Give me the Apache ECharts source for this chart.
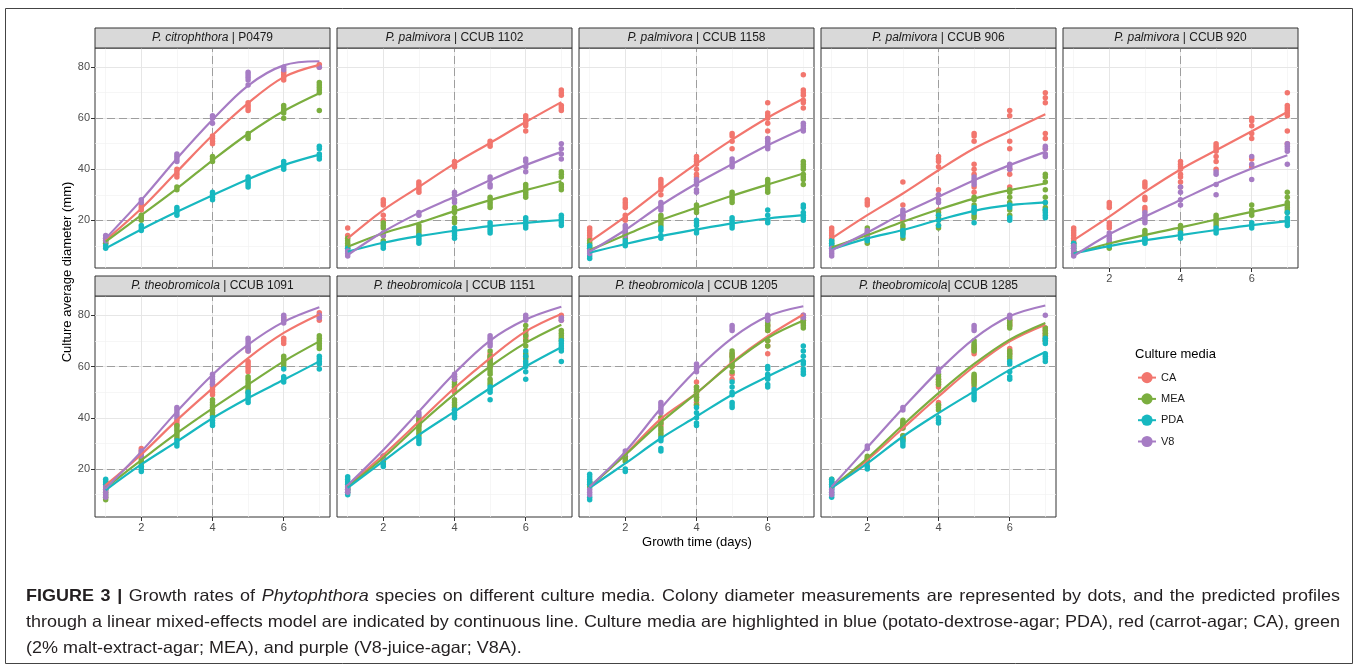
<!DOCTYPE html>
<html><head><meta charset="utf-8">
<script src="https://cdn.jsdelivr.net/npm/echarts@6/dist/echarts.min.js"></script>
<style>html,body{margin:0;padding:0;background:#fff}#c{width:1358px;height:666px}</style>
</head><body><div id="c"></div>
<script>
// ---------- axes / categories ----------
const days = [1, 2, 3, 4, 5, 6, 7];
const media = ['CA', 'MEA', 'PDA', 'V8'];
const xTicks = [2, 4, 6];
const yTicks = [20, 40, 60, 80];
const xMinor = [1, 3, 5, 7];
const yMinor = [10, 30, 50, 70];
const refX = [4];
const refY = [20, 60];
const species = ['P. citrophthora', 'P. palmivora', 'P. palmivora', 'P. palmivora', 'P. palmivora',
  'P. theobromicola', 'P. theobromicola', 'P. theobromicola', 'P. theobromicola'];
const strains = ['P0479', 'CCUB 1102', 'CCUB 1158', 'CCUB 906', 'CCUB 920',
  'CCUB 1091', 'CCUB 1151', 'CCUB 1205', 'CCUB 1285'];
const separators = [' | ', ' | ', ' | ', ' | ', ' | ', ' | ', ' | ', ' | ', '| '];

// ---------- P0479 ----------
const P0479_CA = [[11,12,13],[24,25,26],[37,38,39,40],[50,51,52,53],[63,64,65,66],[75,76,77,78],[80,81]];
const P0479_MEA = [[11,12],[20,21,22],[32,33],[43,44,45],[52,53,54],[60,62,63,64,65],[63,70,71,72,73,74]];
const P0479_PDA = [[9,10],[16,17,18],[22,23,24,25],[28,29,30,31],[33,34,35,36,37],[40,41,42,43],[44,45,46,48,49]];
const P0479_V8 = [[12,13,14],[27,28],[43,44,45,46],[58,60,61],[73,75,76,77,78],[79,80],[80]];
const P0479_CA_fit = [12.2,24.6,39,53.3,65.9,76.1,80.9];
const P0479_MEA_fit = [11.6,22,32.4,43.5,53.9,62.8,69.8];
const P0479_PDA_fit = [9,16.4,23.3,29.8,36.1,41.6,45.7];
const P0479_V8_fit = [12.9,27.9,44.2,59.4,72.8,80.7,82.3];

// ---------- CCUB 1102 ----------
const C1102_CA = [[14,17],[20,22,26,27,28],[31,32,33,34,35],[41,42,43],[49,50,51],[55,57,58,59,60,61],[63,64,65,69,70,71]];
const C1102_MEA = [[9,10,11,12,13],[11,12,14,17,18,19],[14,15,16,17,18],[19,20,21,23,24,25],[25,26,27,28,29],[29,30,31,32,33,34],[32,33,34,37,38,39]];
const C1102_PDA = [[8,9],[9,10,11],[11,12,13,14],[13,14,15,16,17],[15,16,17,18,19],[17,18,19,20,21],[18,19,20,21,22]];
const C1102_V8 = [[6,7,8],[14,15],[22,23],[27,28,30,31],[33,34,36,37],[39,41,43,44],[44,46,48,50]];
const C1102_CA_fit = [12.9,24,33.1,42.2,50.3,58.5,66.3];
const C1102_MEA_fit = [9.6,14.9,19,23.6,27.9,31.8,35.4];
const C1102_PDA_fit = [7.7,11.2,13.8,15.9,17.7,19,20.1];
const C1102_V8_fit = [6.4,15.5,22.9,29.2,35.7,41.6,46.8];

// ---------- CCUB 1158 ----------
const C1158_CA = [[13,14,15,16,17],[20,21,22,25,26,27,28],[30,32,33,34,35,36],[37,38,40,42,43,44,45],[48,51,53,54],[52,55,58,60,61,62,66],[64,66,67,69,70,71,77]];
const C1158_MEA = [[9,10,11,12],[13,14,15],[18,19,20,21,22],[23,24,25,26],[27,28,29,30,31],[31,32,33,34,35,36],[34,36,37,38,40,41,42,43]];
const C1158_PDA = [[5,6,8,9,10],[10,11,12],[13,14,16,17],[15,16,18,19,20],[17,18,19,20,21],[19,20,22,24],[20,21,22,23,25,26]];
const C1158_V8 = [[7,8],[14,15,16,17,18],[24,25,26,27],[31,32,34,35,36],[41,42,43,44],[48,49,50,51,52],[55,56,57,58]];
const C1158_CA_fit = [11.6,21.4,32.1,42.2,51.6,60.2,67.6];
const C1158_MEA_fit = [8.3,14.2,20.1,24.9,29.6,34,38.3];
const C1158_PDA_fit = [7.3,10.7,13.8,16.4,18.8,20.7,22];
const C1158_V8_fit = [7.7,16.2,25.9,34.4,42,49.4,55.9];

// ---------- CCUB 906 ----------
const C906_CA = [[13,14,15,16,17],[26,27,28],[20,22,26,35],[24,30,32,41,43,44,45],[31,33,38,40,42,51,53,54],[33,38,40,48,51,61,63],[48,52,54,66,68,70]];
const C906_MEA = [[10,11,12],[11,12,13,15,17],[13,15,16,17,18],[17,18,20,21,22,23],[21,22,24,26,28,29],[22,24,26,27,29,31,32],[24,25,27,29,32,35,37,38]];
const C906_PDA = [[9,10,11,12],[12,13,14],[14,15,16],[18,20,22],[19,23,24,25],[20,21,25,26],[21,22,23,24,27]];
const C906_V8 = [[6,7,8,9],[14,15,16],[21,22,23,24],[27,28,30],[34,35,36,37],[40,41,42],[45,46,48,49]];
const C906_CA_fit = [12.9,22,30.5,39.6,48.1,54.9,61.5];
const C906_MEA_fit = [9.3,14.2,19.4,24.2,28.5,31.8,34.4];
const C906_PDA_fit = [8.6,12.9,16.2,20.1,23.7,25.9,27];
const C906_V8_fit = [8.3,15.2,22.7,29.2,35.7,41.6,46.8];

// ---------- CCUB 920 ----------
const C920_CA = [[11,12,13,14,15,16,17],[17,18,19,25,26,27],[24,25,28,29,33,34,35],[33,35,37,38,40,41,42,43],[40,43,45,47,48,49,50],[41,44,52,54,57,59,60],[50,55,61,62,63,64,65,70]];
const C920_MEA = [[7,8,9,10,11],[9,10,11],[12,13,14,15,16],[15,16,17,18],[18,19,20,21,22],[22,23,24,26],[23,24,25,26,27,29,31]];
const C920_PDA = [[8,9,10,11],[10,11],[11,12,13],[13,14,15],[15,16,17],[17,18,19],[18,19,20,21,23]];
const C920_V8 = [[6,7,8,9,10],[12,13,14,15],[19,20,21,22,23],[26,28,31,33],[30,34,38,39],[36,42,45],[42,47,48,49,50]];
const C920_CA_fit = [12.2,21.4,31.1,39.9,47.4,54.9,62.4];
const C920_MEA_fit = [7,10.9,14.2,17.2,20.3,23.3,26.3];
const C920_PDA_fit = [7,9.9,12.2,14.2,16.2,18.1,19.7];
const C920_V8_fit = [6,14.5,21.4,27.9,34.4,40.3,45.5];

// ---------- CCUB 1091 ----------
const C1091_CA = [[12,13,14,15],[25,26,27,28],[37,38,39],[49,50,51,52,53],[58,59,60,61,62,66,67],[69,70,71,78,79],[78,79,80,81]];
const C1091_MEA = [[8,9,10,11,12,13,14,15],[21,22,23,24],[32,33,34,35,36,37],[41,42,43,44,45,46,47],[50,51,52,53,54,55,56],[60,61,62,63,64],[67,68,69,70,71,72]];
const C1091_PDA = [[14,15,16],[19,20,21],[29,30,31],[37,38,39,40],[46,47,48,49,50],[54,55,56,59],[59,61,62,63,64]];
const C1091_V8 = [[9,10,11,12,13],[25,26,27],[40,41,42,43,44],[53,54,55,56,57],[66,67,68,69,70,71],[77,78,79,80],[79,80]];
const C1091_CA_fit = [13.7,25.7,39.1,51.5,63.3,73.1,80.3];
const C1091_MEA_fit = [12.7,23.5,34,43.7,52.9,62,69.8];
const C1091_PDA_fit = [11.8,21.8,30.7,39.8,47.7,54.8,62];
const C1091_V8_fit = [12.4,26.8,42.4,56.8,68.5,77.4,83.1];

// ---------- CCUB 1151 ----------
const C1151_CA = [[11,12,13],[24,25],[37,38,39],[50,51,52],[60,61,62,63,64,65],[70,71,72,73,74],[78,79,80]];
const C1151_MEA = [[12,13,14,15],[22,23,24,25],[33,34,35,36,37,38,39,40],[43,44,45,46,47,52,53,54,55,56],[53,54,55,57,58,59,60,61,62,63,64,66],[63,64,65,68,70,72,74,76],[70,71,72,73,74]];
const C1151_PDA = [[10,11,12,14,15,16,17],[21,22],[30,31,32],[40,41,42,43],[47,50,51,52],[55,58,60,61,62,64,66],[62,66,67,68,69,70]];
const C1151_V8 = [[11,12,13],[24,25],[41,42],[55,56,57],[68,69,70,71,72],[78,79,80],[78,79]];
const C1151_CA_fit = [13.5,25.5,38.5,51.6,63.3,73.7,80.5];
const C1151_MEA_fit = [13.1,24.4,37.2,49.2,60,69.2,76.3];
const C1151_PDA_fit = [12.7,23.1,33.3,42.4,51.5,60,67.5];
const C1151_V8_fit = [13.7,27.4,42.4,57.4,70.1,78.3,83.3];

// ---------- CCUB 1205 ----------
const C1205_CA = [[14,15],[24,25],[37,38,39,40],[45,46,48,50,52,54],[55,57,60,64,65],[65,68,70,74,76],[77,78,79,80]];
const C1205_MEA = [[13,14,15],[23,24,25],[33,34,35,36,38,40],[45,47,48,49,50,51,52],[58,60,61,62,63,64,65,66],[68,70,74,75,76,77,78],[75,76,77,78,79]];
const C1205_PDA = [[8,9,14,15,16,17,18],[19,20],[27,28,31,32],[37,38,40,42,44],[44,45,46,49,50,52,54],[52,53,55,56,57,59,60],[57,58,59,61,62,64,66,68]];
const C1205_V8 = [[10,11,12],[26,27],[42,43,44,45,46],[58,59,60,61],[74,75,76],[78,79,80],[79,80]];
const C1205_CA_fit = [13.1,25.7,39.6,49.6,61.6,71.8,80.3];
const C1205_MEA_fit = [13.1,25.5,38.3,49.6,61.2,71.1,77.9];
const C1205_PDA_fit = [12.7,22.2,32,40.5,49,56.1,62.7];
const C1205_V8_fit = [13.1,26.8,43.7,58.7,71.1,79.6,83.5];

// ---------- CCUB 1285 ----------
const C1285_CA = [[13,14,15],[22,23,24],[32,33,36,37,38],[45,46,52,53,54,55],[52,54,55,56,65,66,67,68],[65,66,67,76,77,78],[70,72,73,74,75]];
const C1285_MEA = [[13,14,15,16],[23,24,25],[31,32,33,36,37,38,39],[43,44,45,53,54,55,56,57],[53,54,55,56,57,66,67,68,69,70],[63,64,65,66,75,76,77,78],[70,71,72,73,74,75]];
const C1285_PDA = [[9,10,11,12,13,14,15,16],[20,21],[29,30,31],[38,39,40],[47,48,49,50,51],[55,56,58,61,62],[62,63,64,65,69,70,71]];
const C1285_V8 = [[10,11,12],[28,29],[43,44],[58,59],[74,75,76],[79,80],[80]];
const C1285_CA_fit = [12.8,23.5,35.9,48.3,60,69.8,76.3];
const C1285_MEA_fit = [12.8,24.2,37.2,49.6,61,70.5,77];
const C1285_PDA_fit = [12.7,22.2,32.7,41.8,50.3,58.7,65.7];
const C1285_V8_fit = [13.1,28.4,43.7,58.3,70.9,79.6,83.8];

// ---------- caption text ----------
const captionLines = [
  '{b|FIGURE 3 |} Growth rates of {i|Phytophthora} species on different culture media. Colony diameter measurements are represented by dots, and the predicted profiles',
  'through a linear mixed-effects model are indicated by continuous line. Culture media are highlighted in blue (potato-dextrose-agar; PDA), red (carrot-agar; CA), green',
  '(2% malt-extract-agar; MEA), and purple (V8-juice-agar; V8A).'
];

// ---------- assembly ----------
const panelData = [
  {CA:[P0479_CA,P0479_CA_fit], MEA:[P0479_MEA,P0479_MEA_fit], PDA:[P0479_PDA,P0479_PDA_fit], V8:[P0479_V8,P0479_V8_fit]},
  {CA:[C1102_CA,C1102_CA_fit], MEA:[C1102_MEA,C1102_MEA_fit], PDA:[C1102_PDA,C1102_PDA_fit], V8:[C1102_V8,C1102_V8_fit]},
  {CA:[C1158_CA,C1158_CA_fit], MEA:[C1158_MEA,C1158_MEA_fit], PDA:[C1158_PDA,C1158_PDA_fit], V8:[C1158_V8,C1158_V8_fit]},
  {CA:[C906_CA,C906_CA_fit], MEA:[C906_MEA,C906_MEA_fit], PDA:[C906_PDA,C906_PDA_fit], V8:[C906_V8,C906_V8_fit]},
  {CA:[C920_CA,C920_CA_fit], MEA:[C920_MEA,C920_MEA_fit], PDA:[C920_PDA,C920_PDA_fit], V8:[C920_V8,C920_V8_fit]},
  {CA:[C1091_CA,C1091_CA_fit], MEA:[C1091_MEA,C1091_MEA_fit], PDA:[C1091_PDA,C1091_PDA_fit], V8:[C1091_V8,C1091_V8_fit]},
  {CA:[C1151_CA,C1151_CA_fit], MEA:[C1151_MEA,C1151_MEA_fit], PDA:[C1151_PDA,C1151_PDA_fit], V8:[C1151_V8,C1151_V8_fit]},
  {CA:[C1205_CA,C1205_CA_fit], MEA:[C1205_MEA,C1205_MEA_fit], PDA:[C1205_PDA,C1205_PDA_fit], V8:[C1205_V8,C1205_V8_fit]},
  {CA:[C1285_CA,C1285_CA_fit], MEA:[C1285_MEA,C1285_MEA_fit], PDA:[C1285_PDA,C1285_PDA_fit], V8:[C1285_V8,C1285_V8_fit]}
];

const colors = {CA:'#F2766E', MEA:'#7BAE3F', PDA:'#17B8C0', V8:'#A67CC4'};
const FONT = '"Liberation Sans", Arial, Helvetica, sans-serif';
const lefts = [95, 337, 579, 821, 1063];
const W = 235;
const rows = [{top:48, h:220}, {top:296, h:221}];
const STRIP_H = 20;

const grids = [], xAxes = [], yAxes = [], series = [], graphics = [];

panelData.forEach((pd, i) => {
  const r = i < 5 ? 0 : 1;
  const c = i < 5 ? i : i - 5;
  const L = lefts[c], T = rows[r].top, H = rows[r].h;
  grids.push({left:L, top:T, width:W, height:H, show:true, borderColor:'#333333', borderWidth:1, backgroundColor:'#ffffff', z:0});
  const showX = (r === 1) || (i === 4);
  const showY = (c === 0);
  xAxes.push({type:'value', gridIndex:i, min:0.7, max:7.3,
    axisLine:{show:false}, splitLine:{show:false},
    axisTick:{show:showX, customValues:xTicks, length:4, lineStyle:{color:'#333333', width:1}},
    axisLabel:{show:showX, customValues:xTicks, color:'#4d4d4d', fontSize:11, margin:5, fontFamily:FONT}});
  yAxes.push({type:'value', gridIndex:i, min:1.3, max:87.5,
    axisLine:{show:false}, splitLine:{show:false},
    axisTick:{show:showY, customValues:yTicks, length:4, lineStyle:{color:'#333333', width:1}},
    axisLabel:{show:showY, customValues:yTicks, color:'#4d4d4d', fontSize:11, margin:5, fontFamily:FONT}});

  const minorStyle = {color:'#F2F2F2', width:0.7, type:'solid'};
  const majorStyle = {color:'#E6E6E6', width:1, type:'solid'};
  const refStyle = {color:'#9E9E9E', width:1, type:[8,4]};
  const ml = [];
  xMinor.forEach(v => ml.push({xAxis:v, lineStyle:minorStyle}));
  yMinor.forEach(v => ml.push({yAxis:v, lineStyle:minorStyle}));
  xTicks.forEach(v => ml.push({xAxis:v, lineStyle:majorStyle}));
  yTicks.forEach(v => ml.push({yAxis:v, lineStyle:majorStyle}));
  refX.forEach(v => ml.push({xAxis:v, lineStyle:refStyle}));
  refY.forEach(v => ml.push({yAxis:v, lineStyle:refStyle}));
  series.push({type:'line', name:'grid'+i, xAxisIndex:i, yAxisIndex:i, data:[], silent:true, z:1,
    markLine:{silent:true, symbol:['none','none'], animation:false, z:1, label:{show:false}, emphasis:{disabled:true}, data:ml}});

  media.forEach(m => {
    const fit = pd[m][1];
    series.push({type:'line', name:m, xAxisIndex:i, yAxisIndex:i, z:4, smooth:0.35,
      showSymbol:false, symbol:'circle', symbolSize:5, silent:true,
      itemStyle:{color:colors[m]}, lineStyle:{color:colors[m], width:2.2},
      data: days.map((d, k) => [d, fit[k]])});
  });
  media.forEach(m => {
    const pts = pd[m][0];
    const arr = [];
    pts.forEach((vals, k) => vals.forEach(v => arr.push([days[k], v])));
    series.push({type:'scatter', name:m, xAxisIndex:i, yAxisIndex:i, z:3, symbolSize:5.5, silent:true,
      itemStyle:{color:colors[m], opacity:1}, data:arr});
  });

  // strip
  graphics.push({type:'rect', shape:{x:L, y:T - STRIP_H, width:W, height:STRIP_H},
    style:{fill:'#D9D9D9', stroke:'#333333', lineWidth:1}, z:10});
  graphics.push({type:'text', x:L + W / 2, y:T - STRIP_H / 2, z:11,
    style:{text:'{i|' + species[i] + '}' + separators[i] + strains[i],
      rich:{i:{fontStyle:'italic', fontSize:12, fontFamily:FONT, fill:'#1a1a1a'}},
      fontSize:12, fontFamily:FONT, fill:'#1a1a1a', align:'center', verticalAlign:'middle'}});
});

// axis titles
graphics.push({type:'text', x:67, y:272, rotation:Math.PI / 2, z:11,
  style:{text:'Culture average diameter (mm)', fontSize:13, fontFamily:FONT, fill:'#000', align:'center', verticalAlign:'middle'}});
graphics.push({type:'text', x:697, y:542, z:11,
  style:{text:'Growth time (days)', fontSize:13, fontFamily:FONT, fill:'#000', align:'center', verticalAlign:'middle'}});
// legend title
graphics.push({type:'text', x:1135, y:354, z:11,
  style:{text:'Culture media', fontSize:13, fontFamily:FONT, fill:'#000', align:'left', verticalAlign:'middle'}});

// caption (lines 1-2 justified to 26..1340, slightly wide face)
const CAP_SIZE = 16.5;
const CAP_SX = 1.09;
const CAP_LEFT = 26, CAP_RIGHT = 1340;
const capY = [596, 622, 648];
const mctx = document.createElement('canvas').getContext('2d');
function tokenize(line) {
  const toks = [];
  const re = /\{(b|i)\|([^}]*)\}|([^\s{]+)/g;
  let mm;
  while ((mm = re.exec(line)) !== null) {
    if (mm[1]) mm[2].split(' ').filter(s => s).forEach(w => toks.push({t:w, s:mm[1]}));
    else toks.push({t:mm[3], s:''});
  }
  return toks;
}
function fontOf(s) {
  return (s === 'i' ? 'italic ' : '') + (s === 'b' ? 'bold ' : '') + CAP_SIZE + 'px "Liberation Sans", Arial, sans-serif';
}
captionLines.forEach((line, li) => {
  const toks = tokenize(line);
  toks.forEach(tk => { mctx.font = fontOf(tk.s); tk.w = mctx.measureText(tk.t).width * CAP_SX; });
  mctx.font = fontOf('');
  const spaceW = mctx.measureText(' ').width * CAP_SX;
  const sum = toks.reduce((a, tk) => a + tk.w, 0);
  const justify = li < captionLines.length - 1;
  const gap = justify ? (CAP_RIGHT - CAP_LEFT - sum) / (toks.length - 1) : spaceW;
  let x = CAP_LEFT;
  toks.forEach(tk => {
    graphics.push({type:'text', x:x, y:capY[li], scaleX:CAP_SX, z:11,
      style:{text:tk.t, fontSize:CAP_SIZE, fontFamily:FONT, fill:'#231f20',
        fontWeight:tk.s === 'b' ? 'bold' : 'normal', fontStyle:tk.s === 'i' ? 'italic' : 'normal',
        align:'left', verticalAlign:'middle'}});
    x += tk.w + gap;
  });
});

// frame
graphics.push({type:'rect', shape:{x:5.5, y:8.5, width:1347, height:655}, z:0,
  style:{fill:'none', stroke:'#444444', lineWidth:1}});

const chart = echarts.init(document.getElementById('c'), null, {renderer:'canvas'});
chart.setOption({
  animation:false,
  backgroundColor:'#ffffff',
  textStyle:{fontFamily:FONT},
  grid:grids, xAxis:xAxes, yAxis:yAxes, series:series,
  legend:{data:media, orient:'vertical', left:1132, top:367, itemWidth:18, itemHeight:14, itemGap:10.1,
    selectedMode:false, textStyle:{fontSize:11, color:'#1a1a1a', fontFamily:FONT}},
  graphic:graphics
});
</script>
</body></html>
